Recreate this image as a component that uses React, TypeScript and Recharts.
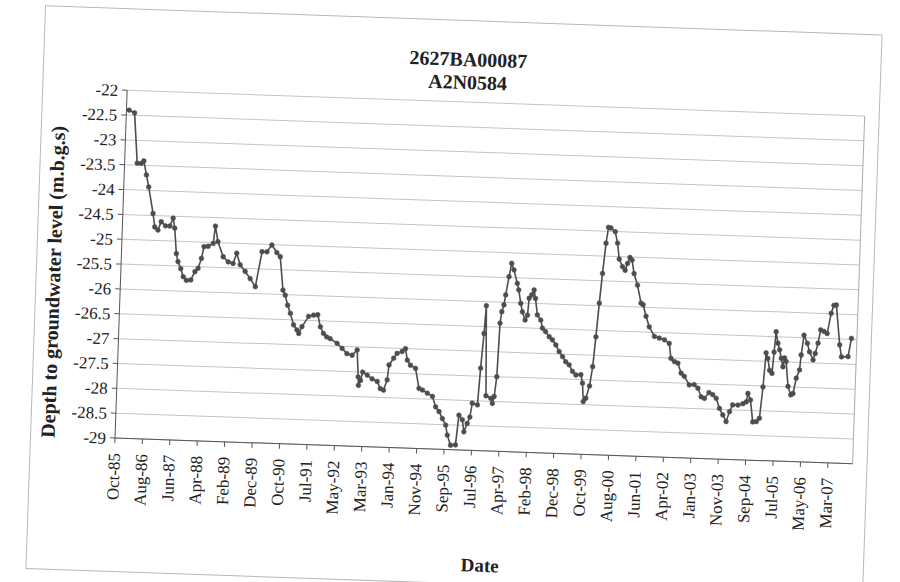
import React from "react";
import { CartesianGrid, Line, LineChart, ReferenceLine, XAxis, YAxis } from "recharts";

// x = position along the date axis, one tick every 10 units (Oct-85 = 0)
const monthIndex = [
  1.0, 3.0, 4.6, 6.1, 7.0, 8.1, 9.1, 11.0, 11.8, 13.0,
  14.1, 15.7, 17.3, 18.4, 19.1, 20.0, 20.7, 21.8, 22.8, 24.0,
  25.6, 27.0, 28.1, 29.2, 30.0, 31.5, 33.3, 33.9, 35.0, 37.1,
  39.0, 40.8, 42.0, 43.4, 45.3, 47.2, 49.2, 51.2, 53.0, 54.7,
  56.6, 57.9, 59.3, 60.2, 61.2, 62.3, 63.6, 64.9, 65.6, 66.7,
  69.0, 70.8, 72.3, 73.4, 74.6, 75.8, 77.1, 79.7, 81.6, 83.4,
  85.3, 87.1, 87.8, 88.0, 88.7, 89.4, 91.1, 92.9, 94.8, 96.0,
  97.2, 98.4, 98.9, 100.5, 101.7, 103.5, 104.7, 105.5, 106.7, 108.6,
  110.1, 111.4, 113.2, 115.1, 116.4, 117.7, 119.0, 120.3, 121.0, 122.3,
  124.1, 125.0, 126.3, 127.0, 128.1, 129.0, 129.7, 131.6, 132.3, 133.1,
  133.6, 134.6, 136.4, 137.0, 137.6, 138.3, 138.8, 139.3, 140.0, 140.5,
  141.5, 142.3, 143.2, 144.6, 145.2, 146.1, 146.8, 147.9, 148.7, 149.1,
  150.0, 150.8, 151.4, 152.3, 153.6, 154.3, 155.5, 156.9, 158.1, 159.4,
  160.7, 162.0, 163.2, 164.5, 165.8, 167.1, 168.9, 169.6, 170.1, 171.0,
  172.2, 173.1, 173.9, 174.7, 175.5, 176.4, 177.1, 178.0, 179.6, 180.6,
  181.4, 182.7, 183.7, 184.5, 185.3, 186.1, 187.0, 188.4, 189.9, 190.7,
  191.9, 193.2, 195.2, 197.0, 198.9, 200.7, 201.5, 202.8, 204.1, 205.4,
  206.6, 208.5, 210.3, 211.7, 213.0, 214.2, 215.8, 217.2, 218.5, 219.8,
  221.1, 222.4, 223.5, 224.6, 226.5, 228.3, 229.5, 230.0, 231.0, 232.1,
  233.4, 234.5, 235.4, 236.1, 236.8, 237.6, 238.5, 239.0, 239.5, 240.3,
  241.0, 241.7, 242.4, 242.9, 243.5, 244.5, 245.6, 246.4, 247.4, 248.5,
  248.9, 249.7, 251.0, 251.9, 253.3, 254.0, 254.9, 255.7, 256.9, 258.1,
  259.3, 260.2, 261.1, 262.8, 263.6, 266.0, 267.0,
];

// depth to groundwater level (m.b.g.s)
const depth = [
  -22.4, -22.45, -23.46, -23.46, -23.41, -23.69, -23.93, -24.46, -24.73, -24.79,
  -24.62, -24.7, -24.7, -24.54, -24.74, -25.25, -25.41, -25.55, -25.71, -25.78,
  -25.77, -25.6, -25.53, -25.33, -25.09, -25.08, -25.02, -24.67, -24.98, -25.28,
  -25.38, -25.41, -25.2, -25.43, -25.56, -25.7, -25.86, -25.15, -25.15, -25.01,
  -25.16, -25.24, -25.91, -26.01, -26.21, -26.37, -26.6, -26.7, -26.77, -26.63,
  -26.42, -26.39, -26.38, -26.62, -26.75, -26.82, -26.85, -26.94, -27.04, -27.14,
  -27.17, -27.06, -27.6, -27.77, -27.67, -27.5, -27.56, -27.63, -27.68, -27.82,
  -27.85, -27.64, -27.34, -27.2, -27.1, -27.06, -27.0, -27.23, -27.33, -27.39,
  -27.79, -27.82, -27.88, -27.94, -28.15, -28.24, -28.38, -28.51, -28.71, -28.91,
  -28.9, -28.3, -28.39, -28.63, -28.46, -28.33, -28.05, -28.08, -27.34, -26.64,
  -26.08, -27.89, -27.94, -28.04, -27.9, -27.5, -26.42, -26.19, -26.05, -25.85,
  -25.48, -25.21, -25.34, -25.61, -25.74, -26.01, -26.18, -26.34, -26.24, -25.9,
  -25.83, -25.73, -25.9, -26.23, -26.33, -26.49, -26.56, -26.66, -26.72, -26.82,
  -26.95, -27.05, -27.15, -27.21, -27.34, -27.41, -27.4, -27.57, -27.94, -27.87,
  -27.62, -27.23, -26.63, -25.95, -25.35, -24.74, -24.42, -24.43, -24.5, -24.73,
  -25.05, -25.2, -25.27, -25.13, -25.01, -25.06, -25.33, -25.56, -25.92, -25.95,
  -26.18, -26.39, -26.58, -26.61, -26.64, -26.71, -27.01, -27.07, -27.1, -27.3,
  -27.36, -27.53, -27.52, -27.59, -27.76, -27.79, -27.67, -27.71, -27.78, -27.98,
  -28.11, -28.24, -28.04, -27.9, -27.9, -27.87, -27.83, -27.66, -27.79, -28.23,
  -28.22, -28.15, -27.52, -26.83, -26.94, -27.18, -27.24, -26.81, -26.4, -26.63,
  -26.76, -26.93, -27.1, -26.92, -26.99, -27.49, -27.66, -27.63, -27.32, -27.15,
  -26.85, -26.45, -26.61, -26.78, -26.94, -26.81, -26.6, -26.33, -26.36, -26.4,
  -25.99, -25.83, -25.82, -26.62, -26.86, -26.85, -26.48,
];

const tickLabels = [
  "Oct-85", "Aug-86", "Jun-87", "Apr-88", "Feb-89", "Dec-89", "Oct-90",
  "Jul-91", "May-92", "Mar-93", "Jan-94", "Nov-94", "Sep-95", "Jul-96",
  "Apr-97", "Feb-98", "Dec-98", "Oct-99", "Aug-00", "Jun-01", "Apr-02",
  "Jan-03", "Nov-03", "Sep-04", "Jul-05", "May-06", "Mar-07",
];

const depthTicks = [
  -29, -28.5, -28, -27.5, -27, -26.5, -26, -25.5, -25, -24.5, -24, -23.5, -23,
  -22.5, -22,
];

const data = monthIndex.map((m, i) => ({ m, depth: depth[i] }));
const xTicks = tickLabels.map((_, i) => i * 10);

const SERIF = "'Liberation Serif', 'Times New Roman', serif";
const INK = "#222";

function DateTick({ x, y, payload }: any) {
  const label = tickLabels[Math.round(payload.value / 10)];
  return (
    <text
      x={x}
      y={y}
      transform={`rotate(-90 ${x} ${y})`}
      textAnchor="end"
      dominantBaseline="central"
      fontFamily={SERIF}
      fontSize={17}
      fill={INK}
    >
      {label}
    </text>
  );
}

export default function App() {
  return (
    <div
      style={{
        position: "absolute",
        left: 0,
        top: 0,
        width: 900,
        height: 582,
        background: "#fff",
        transform: "rotate(2deg)",
        transformOrigin: "115px 438px",
        fontFamily: SERIF,
        color: INK,
      }}
    >
      <div
        style={{
          position: "absolute",
          left: 30,
          top: 8,
          width: 838,
          height: 564,
          border: "1px solid #b8b8b8",
          boxSizing: "border-box",
        }}
      />
      <div
        style={{
          position: "absolute",
          left: 305,
          top: 36,
          width: 300,
          textAlign: "center",
          fontWeight: "bold",
          fontSize: 20,
          lineHeight: "23px",
        }}
      >
        2627BA00087
        <br />
        A2N0584
      </div>
      <div
        style={{
          position: "absolute",
          left: 48,
          top: 284,
          transform: "translate(-50%, -50%) rotate(-90deg)",
          whiteSpace: "nowrap",
          fontWeight: "bold",
          fontSize: 20,
        }}
      >
        Depth to groundwater level (m.b.g.s)
      </div>
      <div
        style={{
          position: "absolute",
          left: 484,
          top: 553,
          transform: "translate(-50%, -50%)",
          fontWeight: "bold",
          fontSize: 19,
        }}
      >
        Date
      </div>
      <LineChart
        width={900}
        height={582}
        data={data}
        margin={{ top: 90, right: 47, bottom: 54, left: 55 }}
        style={{ position: "absolute", left: 0, top: 0 }}
      >
        <CartesianGrid vertical={false} stroke="#c4c4c4" />
        <XAxis
          type="number"
          dataKey="m"
          domain={[0, 269]}
          ticks={xTicks}
          interval={0}
          height={90}
          tickSize={5}
          tickMargin={10}
          axisLine={{ stroke: "#555" }}
          tickLine={{ stroke: "#555" }}
          tick={<DateTick />}
        />
        <YAxis
          type="number"
          domain={[-29, -22]}
          ticks={depthTicks}
          interval={0}
          width={60}
          tickSize={5}
          tickMargin={4}
          axisLine={{ stroke: "#555" }}
          tickLine={{ stroke: "#555" }}
          tick={{ fontFamily: SERIF, fontSize: 17, fill: INK }}
        />
        <ReferenceLine x={269} stroke="#aaa" />
        <Line
          type="linear"
          dataKey="depth"
          stroke="#4d4d4d"
          strokeWidth={1.6}
          dot={{ r: 2.4, fill: "#4d4d4d", stroke: "#4d4d4d", strokeWidth: 0.5 }}
          isAnimationActive={false}
        />
      </LineChart>
    </div>
  );
}
